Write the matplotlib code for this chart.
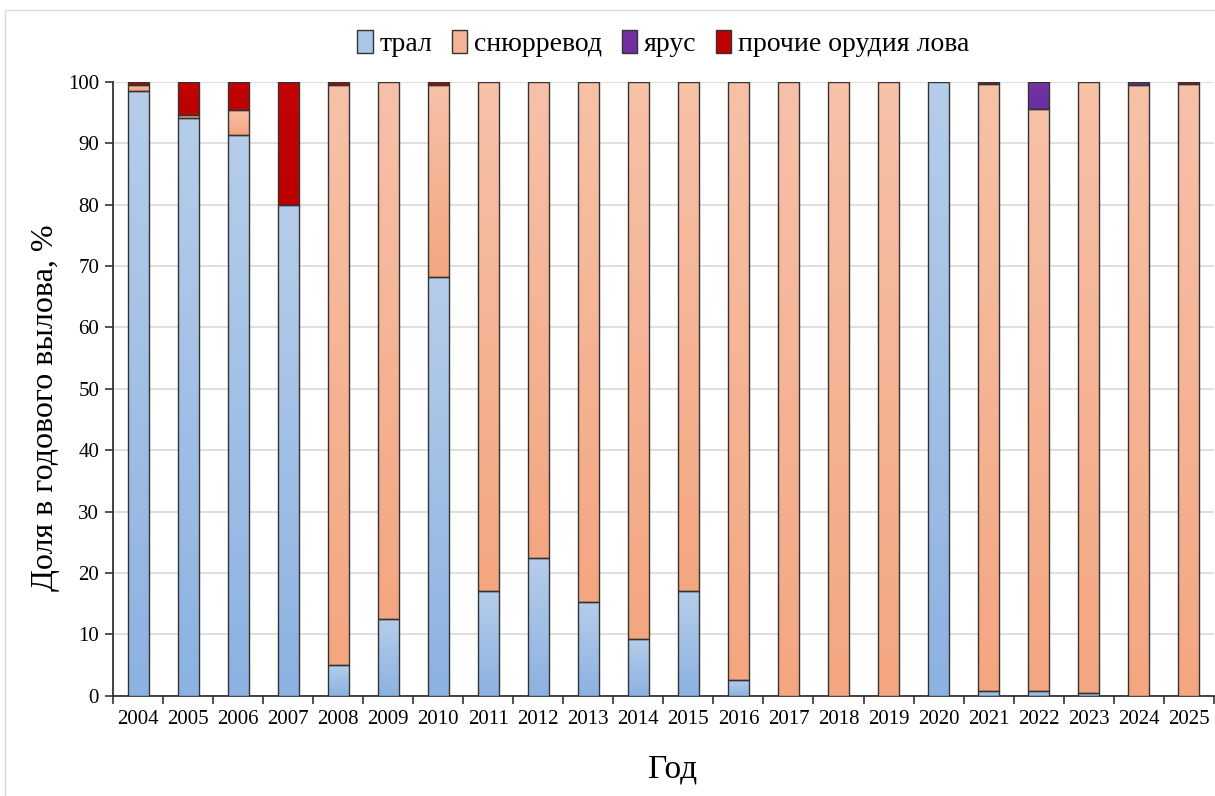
import numpy as np
import matplotlib.pyplot as plt
from matplotlib.colors import LinearSegmentedColormap
from matplotlib.patches import Rectangle, Patch

plt.rcParams['font.family'] = ['Liberation Serif', 'DejaVu Serif']

years = [str(y) for y in range(2004, 2026)]
tral = [98.5, 94.2, 91.4, 80.0, 5.0, 12.5, 68.3, 17.0, 22.5, 15.3, 9.3, 17.1,
        2.5, 0, 0, 0, 100, 0.7, 0.7, 0.4, 0, 0]
snurrevod = [1.0, 0.5, 4.1, 0, 94.5, 87.5, 31.2, 83.0, 77.5, 84.7, 90.7, 82.9,
             97.5, 100, 100, 100, 0, 99.0, 94.9, 99.6, 99.5, 99.7]
yarus = [0, 0, 0, 0, 0, 0, 0, 0, 0, 0, 0, 0,
         0, 0, 0, 0, 0, 0, 4.4, 0, 0.5, 0]
prochie = [0.5, 5.3, 4.5, 20.0, 0.5, 0, 0.5, 0, 0, 0, 0, 0,
           0, 0, 0, 0, 0, 0.3, 0, 0, 0, 0.3]

# name, values, legend colour, gradient (top, bottom)
series = [('трал', tral, '#a9c5e8', ('#b5cdea', '#8cb2e1')),
          ('снюрревод', snurrevod, '#f5b396', ('#f7c1a8', '#f4a680')),
          ('ярус', yarus, '#7030a0', ('#7636a6', '#6a2c9a')),
          ('прочие орудия лова', prochie, '#c00000', ('#c40404', '#bb0000'))]

fig = plt.figure(figsize=(12.15, 7.96), dpi=100)
ax = fig.add_axes([0.093, 0.126, 0.906, 0.771])

x = np.arange(len(years))
bottom = np.zeros(len(years))
grad = np.linspace(1, 0, 64).reshape(-1, 1)
handles = []
for name, vals, col, (ctop, cbot) in series:
    vals = np.array(vals)
    bars = ax.bar(x, vals, width=0.42, bottom=bottom, color=col,
                  edgecolor='#333333', linewidth=1.0, zorder=3)
    cmap = LinearSegmentedColormap.from_list(name, [cbot, ctop])
    for p in bars.patches:
        if p.get_height() <= 0:
            continue
        x0, y0 = p.get_x(), p.get_y()
        im = ax.imshow(grad, cmap=cmap, aspect='auto', zorder=3.5,
                       extent=[x0, x0 + p.get_width(), y0, y0 + p.get_height()],
                       vmin=0, vmax=1)
        im.set_clip_path(p)
        p.set_zorder(4)
        p.set_facecolor('none')
    handles.append(Patch(facecolor=col, edgecolor='#333333', linewidth=1.0, label=name))
    bottom += vals

ax.set_xlim(-0.5, len(years) - 0.5)
ax.set_ylim(0, 100)
ax.set_yticks(range(0, 101, 10))
ax.yaxis.grid(True, color='#d9d9d9', linewidth=1.2, zorder=0)
ax.set_axisbelow(True)
ax.set_xticks(x)
ax.set_xticklabels(years)
ax.set_xticks(np.arange(-0.5, len(years)), minor=True)
ax.tick_params(axis='x', which='major', length=0, pad=10, labelsize=15)
ax.tick_params(axis='x', which='minor', length=6, width=1.2, color='#333333')
ax.tick_params(axis='y', length=6, width=1.2, color='#333333', labelsize=15, pad=4)

for s in ['top', 'right']:
    ax.spines[s].set_visible(False)
for s in ['left', 'bottom']:
    ax.spines[s].set_color('#333333')
    ax.spines[s].set_linewidth(1.3)

ax.set_ylabel('Доля в годового вылова, %', fontsize=23)
ax.yaxis.set_label_coords(-0.048, 0.47)
ax.set_xlabel('Год', fontsize=24)
ax.xaxis.set_label_coords(0.508, -0.095)

ax.legend(handles=handles, loc='lower center', bbox_to_anchor=(0.5, 1.0), ncol=4,
          frameon=False, fontsize=20, handlelength=0.55, handleheight=0.9,
          handletextpad=0.25, columnspacing=0.7)

fig.patches.append(Rectangle((0.004, -0.01), 1.0, 0.998, transform=fig.transFigure,
                             fill=False, edgecolor='#d9d9d9', linewidth=1.0))

fig.savefig('out.png', dpi=100)
